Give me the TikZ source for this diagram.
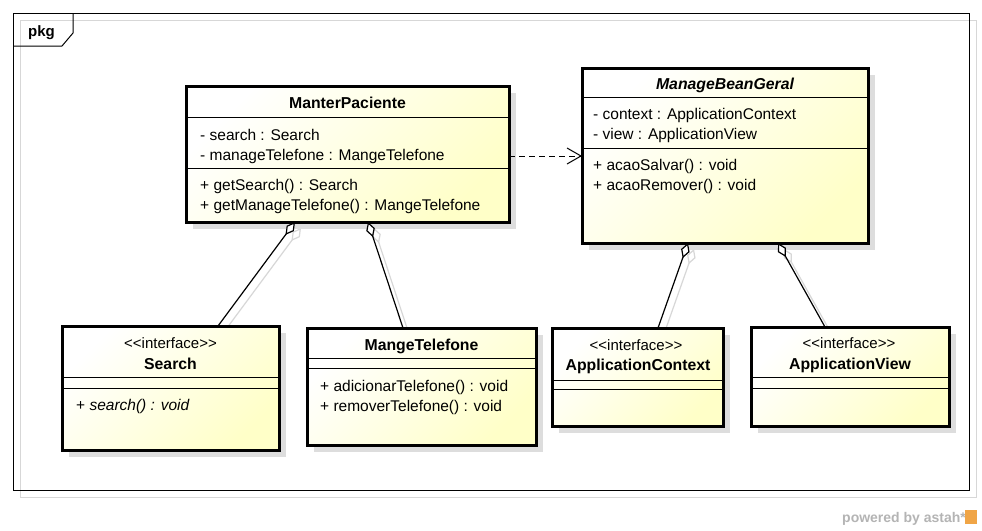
\documentclass[tikz,border=0pt]{standalone}
\usepackage{fontspec}
\setmainfont{Liberation Sans}
\usetikzlibrary{arrows.meta,shadows}
\definecolor{clsyel}{RGB}{255,255,200}
\definecolor{boxshadow}{RGB}{221,221,221}
\definecolor{lineshadow}{RGB}{215,215,215}
\definecolor{wmgray}{RGB}{180,180,180}
\definecolor{astahorange}{RGB}{240,165,70}
\begin{document}
\begin{tikzpicture}[x=1pt,y=-1pt,
  txt/.style={font=\fontsize{15.5}{18}\selectfont, inner sep=0pt, anchor=base west},
  ctxt/.style={txt, anchor=base},
  stereo/.style={ctxt, font=\fontsize{15}{18}\selectfont},
  ttl/.style={ctxt, font=\fontsize{15.8}{18}\selectfont\bfseries},
  cls/.style={draw, line width=3pt, outer sep=0pt, inner sep=0pt,
    top color=white, bottom color=clsyel, shading angle=45,
    drop shadow={shadow xshift=7pt, shadow yshift=-7pt, fill=boxshadow, opacity=1}},
  sepline/.style={line width=1pt},
  agg/.style={line width=1.2pt, {Diamond[fill=white, length=16pt, width=9pt]}-},
  aggsh/.style={agg, draw=lineshadow, transform canvas={shift={(6pt,-6pt)}}},
  dep/.style={line width=1pt, dash pattern=on 6pt off 4pt, -{Straight Barb[length=14pt, width=16pt]}}
]
\useasboundingbox (0,0) rectangle (982,530);
\fill[white] (0,0) rectangle (982,530);

% package frame
\draw[lineshadow, line width=1pt] (20,20) rectangle (976,497);
\draw[line width=1pt] (13,13) rectangle (969,490);
\draw[line width=1pt] (13,46) -- (62,46) -- (73,33) -- (73,13);
\node[txt, font=\fontsize{15}{18}\selectfont\bfseries] (pkg) at (28,36) {pkg};

% class boxes (positions only)
\coordinate (cmp) at (347.5,154);
\coordinate (cmbg) at (725,155.5);
\coordinate (csrch) at (170.5,388);
\coordinate (cmt) at (421.5,386.5);
\coordinate (cac) at (637.5,377);
\coordinate (cav) at (850,376.5);

% invisible copies of the boxes, used for the connector shadows
\path (cmp) node[minimum width=323pt, minimum height=136pt, inner sep=0pt, outer sep=0pt] (mp0) {};
\path (cmbg) node[minimum width=286pt, minimum height=175pt, inner sep=0pt, outer sep=0pt] (mbg0) {};
\path (csrch) node[minimum width=217pt, minimum height=124pt, inner sep=0pt, outer sep=0pt] (srch0) {};
\path (cmt) node[minimum width=229pt, minimum height=117pt, inner sep=0pt, outer sep=0pt] (mt0) {};
\path (cac) node[minimum width=171pt, minimum height=98pt, inner sep=0pt, outer sep=0pt] (ac0) {};
\path (cav) node[minimum width=198pt, minimum height=99pt, inner sep=0pt, outer sep=0pt] (av0) {};

% connector shadows
\draw[aggsh] ([xshift=-52.5pt]mp0.south) -- ([xshift=47.5pt]srch0.north);
\draw[aggsh] ([xshift=20.5pt]mp0.south) -- ([xshift=-18.5pt]mt0.north);
\draw[aggsh] ([xshift=-37pt]mbg0.south) -- ([xshift=20.5pt]ac0.north);
\draw[aggsh] ([xshift=53pt]mbg0.south) -- ([xshift=-25pt]av0.north);

% boxes
\node[cls, minimum width=323pt, minimum height=136pt] (mp) at (cmp) {};
\node[cls, minimum width=286pt, minimum height=175pt] (mbg) at (cmbg) {};
\node[cls, minimum width=217pt, minimum height=124pt] (srch) at (csrch) {};
\node[cls, minimum width=229pt, minimum height=117pt] (mt) at (cmt) {};
\node[cls, minimum width=171pt, minimum height=98pt] (ac) at (cac) {};
\node[cls, minimum width=198pt, minimum height=99pt] (av) at (cav) {};

% separators
\draw[sepline] (186,117) -- (509,117);
\draw[sepline] (186,168) -- (509,168);
\draw[sepline] (582,97) -- (868,97);
\draw[sepline] (582,148) -- (868,148);
\draw[sepline] (62,377) -- (279,377);
\draw[sepline] (62,388) -- (279,388);
\draw[sepline] (307,358) -- (536,358);
\draw[sepline] (307,368) -- (536,368);
\draw[sepline] (552,380) -- (723,380);
\draw[sepline] (552,389) -- (723,389);
\draw[sepline] (751,377) -- (949,377);
\draw[sepline] (751,388) -- (949,388);

% ManterPaciente
\node[ttl] (mpT) at (347.5,108) {ManterPaciente};
\node[txt] (mpA1) at (200,140) {- search : Search};
\node[txt] (mpA2) at (200,160) {- manageTelefone : MangeTelefone};
\node[txt] (mpO1) at (200,190) {+ getSearch() : Search};
\node[txt] (mpO2) at (200,210) {+ getManageTelefone() : MangeTelefone};

% ManageBeanGeral
\node[ttl, font=\fontsize{15.8}{18}\selectfont\bfseries\itshape] (mbgT) at (725,89) {ManageBeanGeral};
\node[txt] (mbgA1) at (593,119) {- context : ApplicationContext};
\node[txt] (mbgA2) at (593,139) {- view : ApplicationView};
\node[txt] (mbgO1) at (593,170) {+ acaoSalvar() : void};
\node[txt] (mbgO2) at (593,190) {+ acaoRemover() : void};

% Search
\node[stereo] (srchS) at (170.5,348) {<{}<interface>{}>};
\node[ttl] (srchT) at (170.5,369) {Search};
\node[txt] (srchO1) at (76,410) {+ \textit{search() : void}};

% MangeTelefone
\node[ttl] (mtT) at (421.5,350) {MangeTelefone};
\node[txt] (mtO1) at (320,391.5) {+ adicionarTelefone() : void};
\node[txt] (mtO2) at (320,411.5) {+ removerTelefone() : void};

% ApplicationContext
\node[stereo] (acS) at (636,350) {<{}<interface>{}>};
\node[ttl] (acT) at (638,370.5) {ApplicationContext};

% ApplicationView
\node[stereo] (avS) at (849,348.3) {<{}<interface>{}>};
\node[ttl] (avT) at (850,369.3) {ApplicationView};

% connectors
\draw[agg] ([xshift=-52.5pt]mp.south) -- ([xshift=47.5pt]srch.north);
\draw[agg] ([xshift=20.5pt]mp.south) -- ([xshift=-18.5pt]mt.north);
\draw[agg] ([xshift=-37pt]mbg.south) -- ([xshift=20.5pt]ac.north);
\draw[agg] ([xshift=53pt]mbg.south) -- ([xshift=-25pt]av.north);
\draw[dep] ([yshift=-2pt]mp.east) -- ([yshift=-2pt]mp.east -| mbg.west);

% watermark
\node[txt, font=\fontsize{14}{16}\selectfont\bfseries, text=wmgray] (wm) at (842,522) {powered by astah*};
\fill[astahorange] (965,510) rectangle (977,524);
\end{tikzpicture}
\end{document}
